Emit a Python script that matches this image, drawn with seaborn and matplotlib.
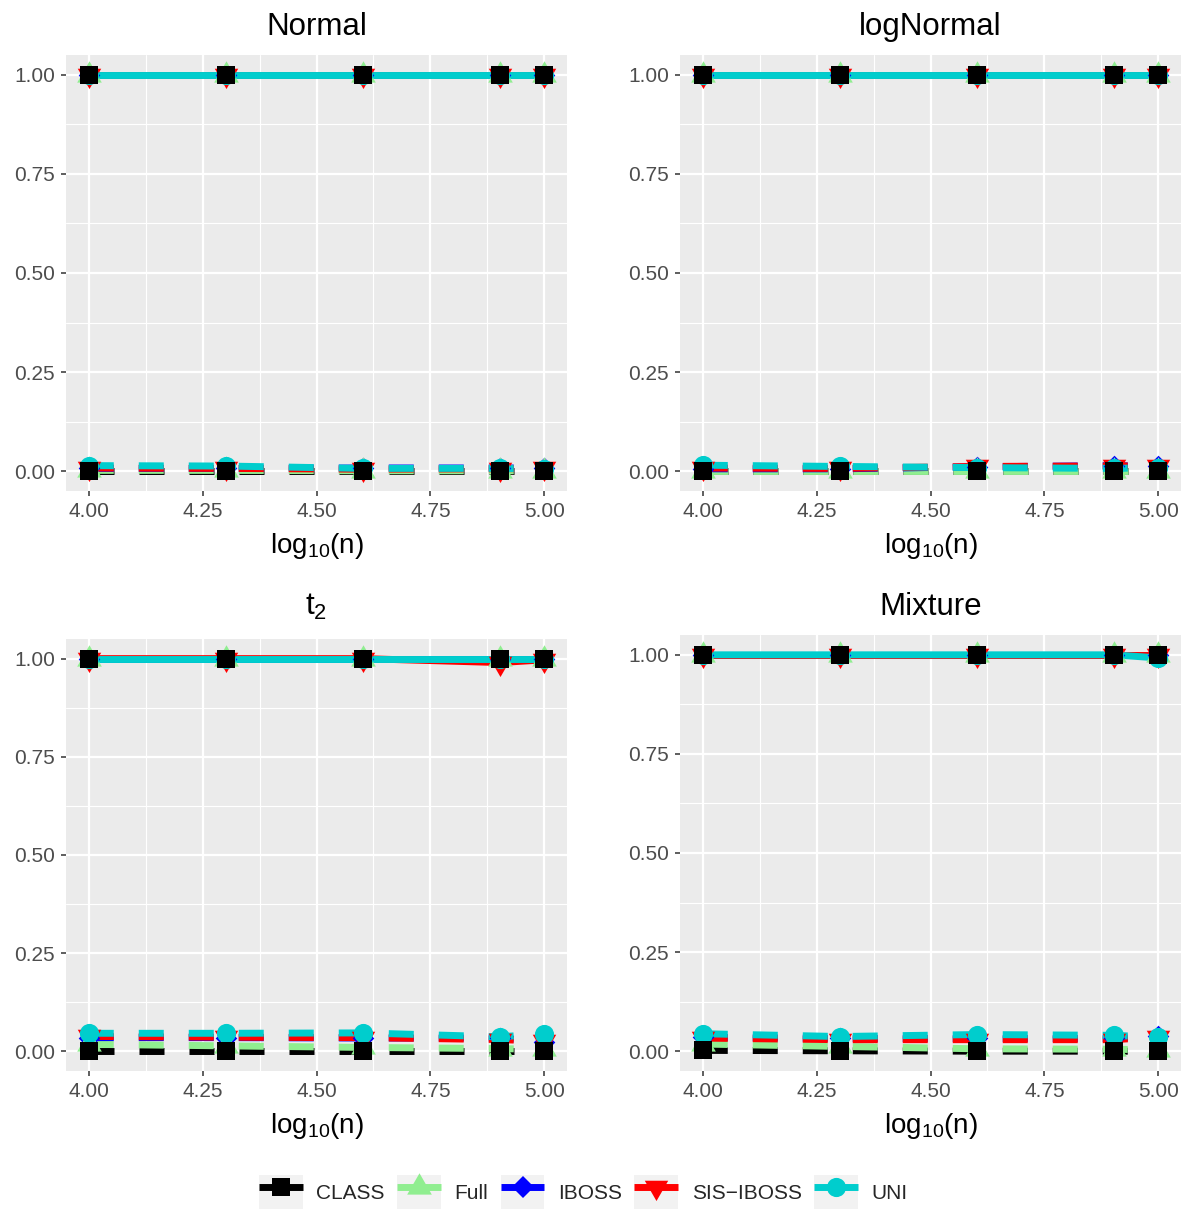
import numpy as np
import pandas as pd
import matplotlib
matplotlib.use("Agg")
import matplotlib.pyplot as plt
from matplotlib.lines import Line2D
from matplotlib.patches import Rectangle
from matplotlib.legend_handler import HandlerLine2D
import seaborn as sns

# ---------------- data ----------------
n_values = [10000, 20000, 40000, 80000, 100000]
methods = ["CLASS", "Full", "IBOSS", "SIS\u2212IBOSS", "UNI"]
panel_titles = ["Normal", "logNormal", r"$\mathregular{t_2}$", "Mixture"]

# true-positive rates (solid lines)
tpr_normal = {"CLASS": [1, 1, 1, 1, 1], "Full": [1, 1, 1, 1, 1], "IBOSS": [1, 1, 1, 1, 1],
              "SIS\u2212IBOSS": [1, 1, 1, 1, 1], "UNI": [1, 1, 1, 1, 1]}
tpr_lognormal = {"CLASS": [1, 1, 1, 1, 1], "Full": [1, 1, 1, 1, 1], "IBOSS": [1, 1, 1, 1, 1],
                 "SIS\u2212IBOSS": [1, 1, 1, 1, 1], "UNI": [1, 1, 1, 1, 1]}
tpr_t2 = {"CLASS": [1, 1, 1, 1, 1], "Full": [1, 1, 1, 1, 1], "IBOSS": [1, 1, 1, 1, 1],
          "SIS\u2212IBOSS": [1, 1, 1, 0.990, 0.997], "UNI": [1, 1, 1, 1, 1]}
tpr_mixture = {"CLASS": [1, 1, 1, 1, 1], "Full": [1, 1, 1, 1, 1], "IBOSS": [1, 1, 1, 1, 1],
               "SIS\u2212IBOSS": [1, 1, 1, 1, 1.0], "UNI": [1, 1, 1, 1, 0.992]}

# false-positive rates (dashed lines)
fpr_normal = {"CLASS": [0, 0, 0, 0, 0],
              "Full": [0.002, 0.002, 0.001, 0.001, 0.001],
              "IBOSS": [0.007, 0.007, 0.008, 0.008, 0.008],
              "SIS\u2212IBOSS": [0.008, 0.007, 0.005, 0.006, 0.007],
              "UNI": [0.014, 0.013, 0.007, 0.007, 0.006]}
fpr_lognormal = {"CLASS": [0, 0, 0, 0, 0],
                 "Full": [0.001, 0.001, 0.001, 0.001, 0.001],
                 "IBOSS": [0.006, 0.006, 0.011, 0.014, 0.012],
                 "SIS\u2212IBOSS": [0.008, 0.007, 0.012, 0.013, 0.014],
                 "UNI": [0.015, 0.012, 0.009, 0.007, 0.009]}
fpr_t2 = {"CLASS": [0.001, 0.001, 0.001, 0.001, 0.001],
          "Full": [0.018, 0.014, 0.010, 0.007, 0.005],
          "IBOSS": [0.035, 0.035, 0.034, 0.034, 0.024],
          "SIS\u2212IBOSS": [0.038, 0.036, 0.035, 0.030, 0.026],
          "UNI": [0.046, 0.046, 0.047, 0.037, 0.045]}
fpr_mixture = {"CLASS": [0.002, 0.001, 0, 0, 0],
               "Full": [0.018, 0.012, 0.006, 0.005, 0.003],
               "IBOSS": [0.035, 0.032, 0.032, 0.032, 0.038],
               "SIS\u2212IBOSS": [0.033, 0.029, 0.029, 0.029, 0.036],
               "UNI": [0.044, 0.037, 0.042, 0.040, 0.035]}

panels = [(tpr_normal, fpr_normal), (tpr_lognormal, fpr_lognormal),
          (tpr_t2, fpr_t2), (tpr_mixture, fpr_mixture)]

x_ticks = [4.0, 4.25, 4.5, 4.75, 5.0]
x_ticklabels = ["4.00", "4.25", "4.50", "4.75", "5.00"]
y_ticks = [0.0, 0.25, 0.5, 0.75, 1.0]
y_ticklabels = ["0.00", "0.25", "0.50", "0.75", "1.00"]

# ---------------- styles ----------------
colors = {"CLASS": "#000000", "Full": "#90EE90", "IBOSS": "#0000FF",
          "SIS\u2212IBOSS": "#FF0000", "UNI": "#00CDCD"}
tri_up = [(0, 1), (-0.866, -0.5), (0.866, -0.5)]
tri_dn = [(0, -1), (-0.866, 0.5), (0.866, 0.5)]
markers = {"CLASS": "s", "Full": tri_up, "IBOSS": "D", "SIS\u2212IBOSS": tri_dn, "UNI": "o"}
msize = {"CLASS": 12.3, "Full": 20.5, "IBOSS": 11.0, "SIS\u2212IBOSS": 19.5, "UNI": 13.8}
point_order = ["IBOSS", "SIS\u2212IBOSS", "Full", "UNI", "CLASS"]

sns.set_theme(style="darkgrid")
plt.rcParams["font.family"] = ["Liberation Sans", "DejaVu Sans"]
plt.rcParams["mathtext.fontset"] = "custom"
plt.rcParams["mathtext.rm"] = "Liberation Sans"

W, H = 1183, 1211
fig = plt.figure(figsize=(W / 100, H / 100), dpi=100)
fig.patch.set_facecolor("white")

rects = [
    (66, 55, 567, 491),
    (680, 55, 1181, 491),
    (66, 639, 567, 1071),
    (680, 635, 1181, 1071),
]
title_pads = [14.4, 14.4, 17.3, 14.4]

x_vals = np.log10(np.array(n_values, dtype=float))

for i, ((tpr, fpr), (l, t, r, b)) in enumerate(zip(panels, rects)):
    ax = fig.add_axes([l / W, 1 - b / H, (r - l) / W, (b - t) / H])
    rows = []
    for m in methods:
        for k in range(len(n_values)):
            rows.append({"x": x_vals[k], "y": tpr[m][k], "method": m, "rate": "TPR"})
            rows.append({"x": x_vals[k], "y": fpr[m][k], "method": m, "rate": "FPR"})
    df = pd.DataFrame(rows)

    sns.lineplot(data=df, x="x", y="y", hue="method", style="rate",
                 hue_order=methods, style_order=["TPR", "FPR"],
                 palette=colors, dashes={"TPR": "", "FPR": (3.6, 3.6)},
                 estimator=None, errorbar=None, linewidth=5.0, legend=False,
                 ax=ax, solid_capstyle="butt", dash_capstyle="butt")
    for m in point_order:
        sub = df[df["method"] == m]
        sns.scatterplot(data=sub, x="x", y="y", color=colors[m], marker=markers[m],
                        s=msize[m] ** 2, linewidth=0, legend=False, ax=ax, zorder=3)

    ax.set_facecolor("#EBEBEB")
    ax.set_xlim(3.95, 5.05)
    ax.set_ylim(-0.05, 1.05)
    ax.set_xticks(x_ticks)
    ax.set_xticklabels(x_ticklabels)
    ax.set_yticks(y_ticks)
    ax.set_yticklabels(y_ticklabels)
    ax.set_xticks([4.125, 4.375, 4.625, 4.875], minor=True)
    ax.set_yticks([0.125, 0.375, 0.625, 0.875], minor=True)
    ax.grid(which="major", color="white", linewidth=1.6)
    ax.grid(which="minor", color="white", linewidth=0.8)
    ax.set_axisbelow(True)
    for s in ax.spines.values():
        s.set_visible(False)
    ax.tick_params(axis="both", which="major", length=3.4, width=1.1, color="#333333",
                   labelsize=15, labelcolor="#4D4D4D", bottom=True, left=True)
    ax.tick_params(axis="x", which="major", pad=4.8)
    ax.tick_params(axis="y", which="major", pad=4.6)
    ax.tick_params(which="minor", length=0)
    ax.set_xlabel(r"$\mathregular{log_{10}(n)}$", fontsize=20, color="black", labelpad=7)
    ax.set_ylabel("")
    ax.set_title(panel_titles[i], fontsize=22.5, color="black", pad=title_pads[i])


class KeyHandler(HandlerLine2D):
    def create_artists(self, legend, orig_handle, xdescent, ydescent, width, height,
                       fontsize, trans):
        arts = super().create_artists(legend, orig_handle, xdescent, ydescent, width,
                                      height, fontsize, trans)
        bg = Rectangle((-xdescent, -ydescent), width, height, facecolor="#F2F2F2",
                       edgecolor="none", transform=trans)
        return [bg] + list(arts)


handles = [Line2D([], [], color=colors[m], linewidth=5.0, marker=markers[m],
                  markersize=msize[m], markeredgewidth=0, solid_capstyle="butt")
           for m in methods]
leg = fig.legend(handles, methods, loc="center", bbox_to_anchor=(0.493, 1 - 1192 / H),
                 ncol=5, frameon=False, fontsize=15, handlelength=2.1, handleheight=2.1,
                 handletextpad=0.65, columnspacing=0.6, borderpad=0, borderaxespad=0,
                 handler_map={Line2D: KeyHandler()})

fig.savefig("out.png", dpi=100, facecolor="white")
